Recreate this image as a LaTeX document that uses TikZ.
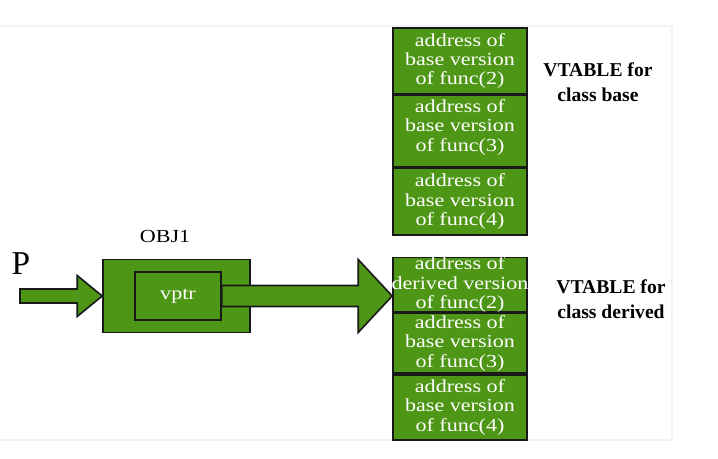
\documentclass[tikz,border=0pt]{standalone}
\usepackage{fontspec}
\setmainfont{Liberation Serif}
\newfontfamily\stretchfont[FakeStretch=1.2]{Liberation Serif}
\usetikzlibrary{positioning,calc}
\definecolor{vgreen}{RGB}{78,150,22}

\begin{document}
\begin{tikzpicture}[
  x=0.75pt,y=-0.75pt,
  node distance=0pt,
  cell/.style={draw=black!90,fill=vgreen,line width=1.2pt,minimum width=100.5pt,inner sep=0pt},
  celltext/.style={text=white,align=center,inner sep=0pt,font=\stretchfont\fontsize{13.8}{14.6}\selectfont},
  box/.style={draw=black!90,fill=vgreen,line width=1.2pt,inner sep=0pt},
  lbl/.style={align=center,inner sep=0pt,font=\bfseries\fontsize{14.7}{18.75}\selectfont},
  fatarrow/.style={draw=black!90,fill=vgreen,line width=1.2pt,line join=miter}]
  \useasboundingbox (0,0) rectangle (718,458);
  \draw[black!5,line width=1pt] (0,26) -- (672,26) -- (672,440) -- (0,440);
  % vtable of class base
  \node[cell,minimum height=49.5pt,label={[celltext]center:{address of\\base version\\of func(2)}}] (b2) at (460,61) {};
  \node[cell,minimum height=53.25pt,below=of b2,label={[celltext,yshift=3pt]center:{address of\\base version\\of func(3)}}] (b3) {};
  \node[cell,minimum height=50.25pt,below=of b3,label={[celltext]center:{address of\\base version\\of func(4)}}] (b4) {};
  \node[lbl] (blbl) at (598,82) {VTABLE for\\class base};
  % vtable of class derived
  \node[cell,minimum height=40.5pt,label={[celltext]center:{address of\\derived version\\of func(2)}}] (d2) at (460,284.5) {};
  \node[cell,minimum height=45pt,below=of d2,label={[celltext]center:{address of\\base version\\of func(3)}}] (d3) {};
  \node[cell,minimum height=48.75pt,below=of d3,label={[celltext]center:{address of\\base version\\of func(4)}}] (d4) {};
  \node[lbl] (dlbl) at (611,299) {VTABLE for\\class derived};
  % object and pointer
  \node[box,minimum width=110.25pt,minimum height=54.75pt] (obj) at (176.5,296) {};
  \node[box,minimum width=64.5pt,minimum height=36pt,text=white,font=\stretchfont\fontsize{13.8}{14.6}\selectfont] (vptr) at (178,296) {vptr};
  \node[font=\stretchfont\fontsize{13.8}{14.6}\selectfont] (objlbl) at (165,236) {OBJ1};
  \node[font=\fontsize{25}{30}\selectfont] (p) at (21,264) {P};
  \coordinate (pstart) at (20,296);
  \coordinate (tip) at (d2.west |- vptr.east);
  \draw[fatarrow] ($(pstart)+(0,-7)$) -- ($(obj.west)+(-25,-7)$) -- ($(obj.west)+(-25,-20.5)$) -- (obj.west)
    -- ($(obj.west)+(-25,20.5)$) -- ($(obj.west)+(-25,7)$) -- ($(pstart)+(0,7)$) -- cycle;
  \draw[fatarrow] ($(vptr.east)+(0,-10.5)$) -- ($(tip)+(-34,-10.5)$) -- ($(tip)+(-34,-36.5)$) -- (tip)
    -- ($(tip)+(-34,36.5)$) -- ($(tip)+(-34,10.5)$) -- ($(vptr.east)+(0,10.5)$) -- cycle;
\end{tikzpicture}
\end{document}
